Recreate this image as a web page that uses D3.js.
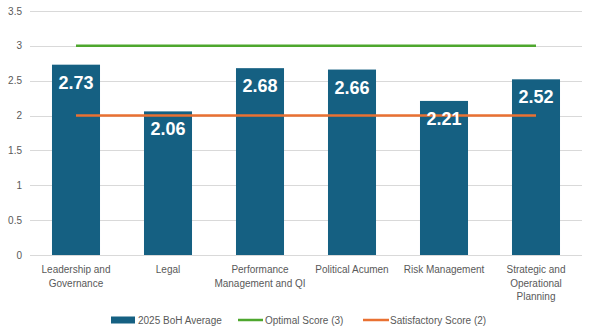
<!DOCTYPE html>
<html>
<head>
<meta charset="utf-8">
<script src="https://cdn.jsdelivr.net/npm/d3@7"></script>
<style>
	body { margin: 0; background: #fff; }
	text { font-family: 'Liberation Sans', Arial, sans-serif; }
</style>
</head>
<body>
<script>
var categories = [
	['Leadership and', 'Governance'],
	['Legal'],
	['Performance', 'Management and QI'],
	['Political Acumen'],
	['Risk Management'],
	['Strategic and', 'Operational', 'Planning']
]
var bohAverage = [2.73, 2.06, 2.68, 2.66, 2.21, 2.52]
var optimalScore = [3, 3, 3, 3, 3, 3]
var satisfactoryScore = [2, 2, 2, 2, 2, 2]
var yTicks = [0, 0.5, 1, 1.5, 2, 2.5, 3, 3.5]
var legendItems = ['2025 BoH Average', 'Optimal Score (3)', 'Satisfactory Score (2)']

var W = 593, H = 336
var mLeft = 30, mRight = 582, mTop = 11, mBottom = 255
var blue = '#156082', green = '#4ea72e', orange = '#e97132'

var svg = d3.select('body').append('svg')
	.attr('width', W).attr('height', H)

var idx = d3.range(categories.length)
var x = d3.scaleBand().domain(idx).range([mLeft, mRight]).paddingInner(0.478).paddingOuter(0.239)
var xc = function(i) { return x(i) + x.bandwidth() / 2 }
var y = d3.scaleLinear().domain([0, 3.5]).range([mBottom, mTop])

// gridlines
svg.append('g').selectAll('line')
	.data(yTicks)
	.enter().append('line')
	.attr('x1', mLeft).attr('x2', mRight)
	.attr('y1', function(d) { return Math.round(y(d)) + 0.5 })
	.attr('y2', function(d) { return Math.round(y(d)) + 0.5 })
	.attr('stroke', '#d9d9d9').attr('stroke-width', 1)

// y tick labels
svg.append('g').selectAll('text')
	.data(yTicks)
	.enter().append('text')
	.attr('x', 22).attr('y', function(d) { return y(d) + 3.5 })
	.attr('text-anchor', 'end')
	.attr('font-size', 10).attr('fill', '#595959')
	.text(function(d) { return d })

// bars
svg.append('g').selectAll('rect')
	.data(bohAverage)
	.enter().append('rect')
	.attr('x', function(d, i) { return x(i) })
	.attr('width', x.bandwidth())
	.attr('y', function(d) { return y(d) })
	.attr('height', function(d) { return y(0) - y(d) })
	.attr('fill', blue)

// reference lines
var line = d3.line()
	.x(function(d, i) { return xc(i) })
	.y(function(d) { return y(d) })
svg.append('path').datum(optimalScore).attr('d', line)
	.attr('fill', 'none').attr('stroke', green).attr('stroke-width', 2.5)
svg.append('path').datum(satisfactoryScore).attr('d', line)
	.attr('fill', 'none').attr('stroke', orange).attr('stroke-width', 2.5)

// data labels
svg.append('g').selectAll('text')
	.data(bohAverage)
	.enter().append('text')
	.attr('x', function(d, i) { return xc(i) })
	.attr('y', function(d) { return y(d) + 24 })
	.attr('text-anchor', 'middle')
	.attr('font-size', 18).attr('font-weight', 'bold').attr('fill', '#fff')
	.text(function(d) { return d.toFixed(2) })

// x labels
var xl = svg.append('g').selectAll('text')
	.data(categories)
	.enter().append('text')
	.attr('text-anchor', 'middle')
	.attr('font-size', 10).attr('fill', '#595959')
xl.selectAll('tspan')
	.data(function(d, i) { return d.map(function(s) { return { s: s, i: i } }) })
	.enter().append('tspan')
	.attr('x', function(d) { return xc(d.i) })
	.attr('y', function(d, j) { return 273 + j * 13.5 })
	.text(function(d) { return d.s })

// legend
var ly = 320
var lg = svg.append('g')
lg.append('rect').attr('x', 111).attr('y', ly - 3.5).attr('width', 24).attr('height', 7).attr('fill', blue)
lg.append('line').attr('x1', 238).attr('x2', 263).attr('y1', ly).attr('y2', ly).attr('stroke', green).attr('stroke-width', 2.5)
lg.append('line').attr('x1', 363).attr('x2', 389).attr('y1', ly).attr('y2', ly).attr('stroke', orange).attr('stroke-width', 2.5)
var lx = [138, 265, 390]
lg.selectAll('text')
	.data(legendItems)
	.enter().append('text')
	.attr('x', function(d, i) { return lx[i] })
	.attr('y', ly + 3.5)
	.attr('font-size', 10).attr('fill', '#595959')
	.text(function(d) { return d })
</script>
</body>
</html>
